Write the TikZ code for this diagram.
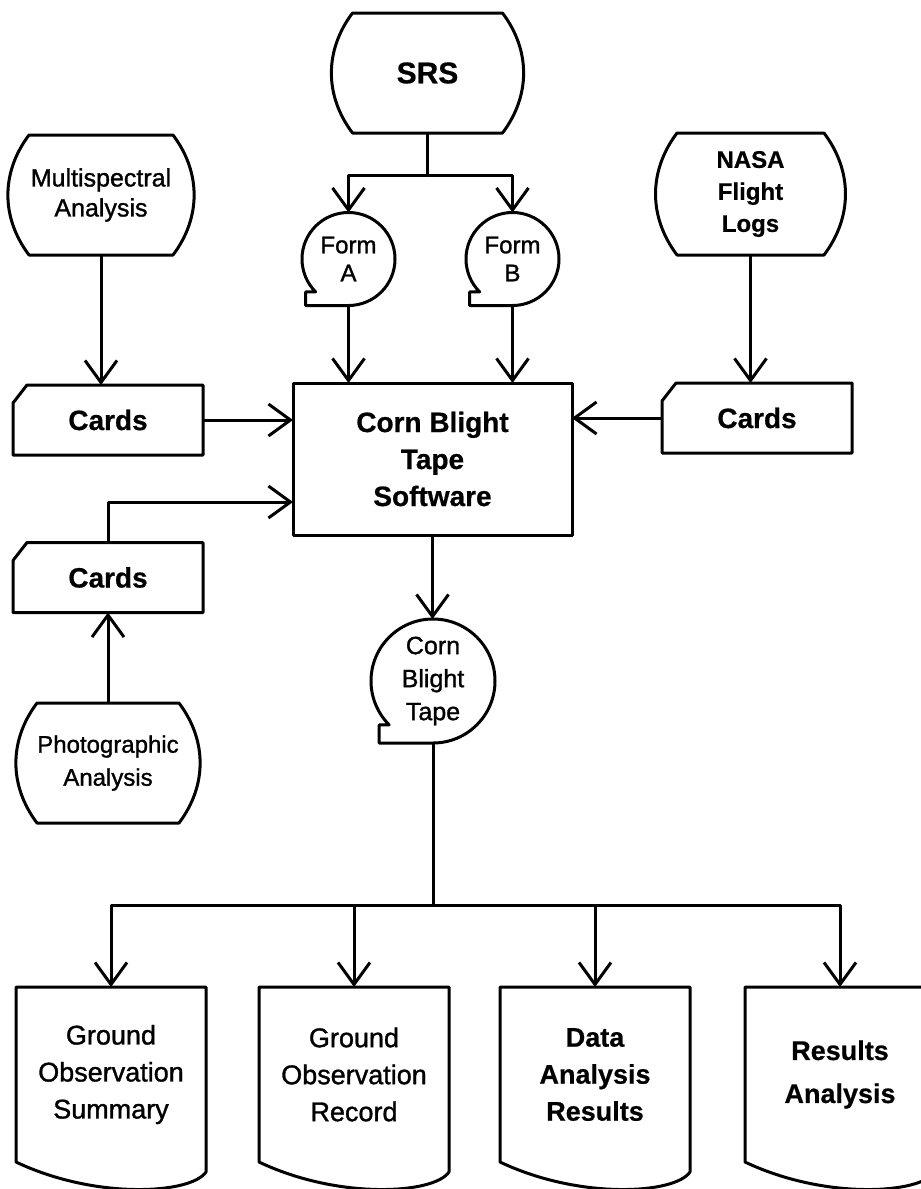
\documentclass[tikz,border=0pt]{standalone}
\usepackage{fontspec}
\setmainfont{Liberation Sans}
\newfontfamily\medfont[FakeBold=1.2]{Liberation Sans}
\newfontfamily\heavyfont[FakeBold=0.6]{Liberation Sans Bold}
\usetikzlibrary{arrows.meta,calc,positioning}

% outlines of the flowchart symbols, drawn round a named node
\newcommand{\storageline}[2]{%
  \draw[flow] ([xshift=#2]#1.north west) -- ([xshift=-#2]#1.north east)
    to[bend left=37] ([xshift=-#2]#1.south east) -- ([xshift=#2]#1.south west)
    to[bend left=37] ([xshift=#2]#1.north west) -- cycle;}
\newcommand{\reelline}[2]{%
  \draw[flow] (#1.south) arc[start angle=-90,end angle=225,radius=#2]
    -- ++(-10,0) |- (#1.south);}
\newcommand{\cardline}[1]{%
  \draw[flow] ([yshift=-18pt]#1.north west) -- ([xshift=14pt]#1.north west)
    -- (#1.north east) -- (#1.south east) -- (#1.south west) -- cycle;}
\newcommand{\docline}[1]{%
  \draw[flow] (#1.south west) -- (#1.north west) -- (#1.north east)
    -- ([yshift=-10pt]#1.south east)
    .. controls +(-15,-22) and +(80,-38) .. (#1.south west) -- cycle;}

\tikzset{
  flow/.style={line width=3pt, line join=round},
  arr/.style={flow, -{Straight Barb[length=22pt,width=32pt]}},
  shp/.style={inner sep=0pt, outer sep=0pt, align=center},
  storagenode/.style={shp, minimum width=190pt, minimum height=120pt},
  reelnode/.style={shp, circle},
  cardnode/.style={shp, minimum width=190pt, minimum height=70pt,
    font=\heavyfont\fontsize{28}{32}\selectfont},
  docnode/.style={shp, minimum width=190pt, minimum height=175pt},
}

\begin{document}
\begin{tikzpicture}[x=1pt,y=1pt]
\useasboundingbox (0,0) rectangle (921,-1189);

% sources
\node[storagenode, font=\heavyfont\fontsize{30}{36}\selectfont] (srs) at (427.5,-73) {SRS};
\node[storagenode, minimum width=192pt, font=\medfont\fontsize{25}{30}\selectfont] (multi) at (101,-195) {Multispectral\\Analysis};
\node[storagenode, minimum width=187pt, minimum height=122pt, font=\heavyfont\fontsize{24}{32}\selectfont] (nasa) at (750.5,-194) {NASA\\Flight\\Logs};
\node[storagenode, font=\medfont\fontsize{24}{33}\selectfont] (photo) at (108,-763) {Photographic\\Analysis};
\storageline{srs}{20pt}
\storageline{multi}{24pt}
\storageline{nasa}{20pt}
\storageline{photo}{24pt}

% forms
\node[reelnode, minimum size=93pt, font=\medfont\fontsize{24}{28}\selectfont] (forma) at (348.5,-259) {Form\\A};
\node[reelnode, minimum size=93pt, font=\medfont\fontsize{24}{28}\selectfont] (formb) at (512.5,-259) {Form\\B};
\reelline{forma}{46.5pt}
\reelline{formb}{46.5pt}

% cards
\node[cardnode] (cardsl) at (108,-420) {Cards};
\node[cardnode] (cardsr) at (757,-418) {Cards};
\node[cardnode] (cardsp) at (108,-577.5) {Cards};
\cardline{cardsl}
\cardline{cardsr}
\cardline{cardsp}

% software and tape
\node[shp, flow, draw, minimum width=279pt, minimum height=152pt, font=\heavyfont\fontsize{28}{37}\selectfont] (soft) at (432.5,-459) {Corn Blight\\Tape\\Software};
\node[reelnode, minimum size=124pt, font=\medfont\fontsize{25}{33}\selectfont] (tape) at (433,-681) {Corn\\Blight\\Tape};
\reelline{tape}{62pt}

% reports
\node[docnode, font=\medfont\fontsize{27}{37}\selectfont] (gos) at (111,-1074.5) {Ground\\Observation\\Summary};
\node[docnode, font=\medfont\fontsize{27}{37}\selectfont] (gor) at (354,-1074.5) {Ground\\Observation\\Record};
\node[docnode, font=\heavyfont\fontsize{27}{37}\selectfont] (dar) at (595,-1074.5) {Data\\Analysis\\Results};
\node[docnode, font=\heavyfont\fontsize{27}{43}\selectfont] (ra) at (840,-1074.5) {Results\\Analysis};
\docline{gos}
\docline{gor}
\docline{dar}
\docline{ra}

% connectors
\coordinate (srsfork) at ($(srs.south)+(0,-42)$);
\draw[arr] (srs.south) -- (srsfork) -| (forma.north);
\draw[arr] (srsfork) -| (formb.north);
\draw[arr] (forma.south) -- (forma.south |- soft.north);
\draw[arr] (formb.south) -- (formb.south |- soft.north);
\draw[arr] (multi.south) -- (multi.south |- cardsl.north);
\draw[arr] (nasa.south) -- (nasa.south |- cardsr.north);
\draw[arr] (cardsl.east) -- (cardsl.east -| soft.west);
\draw[arr] (cardsr.west) -- (cardsr.west -| soft.east);
\draw[arr] (cardsp.north) |- ($(soft.west)+(0,-43)$);
\draw[arr] (photo.north) -- (photo.north |- cardsp.south);
\draw[arr] (soft.south) -- (soft.south |- tape.north);
\coordinate (tapefork) at ($(tape.south)+(0,-162)$);
\draw[arr] (tape.south) -- (tapefork) -| (gos.north);
\draw[arr] (tapefork) -| (gor.north);
\draw[arr] (tapefork) -| (dar.north);
\draw[arr] (tapefork) -| (ra.north);
\end{tikzpicture}
\end{document}
